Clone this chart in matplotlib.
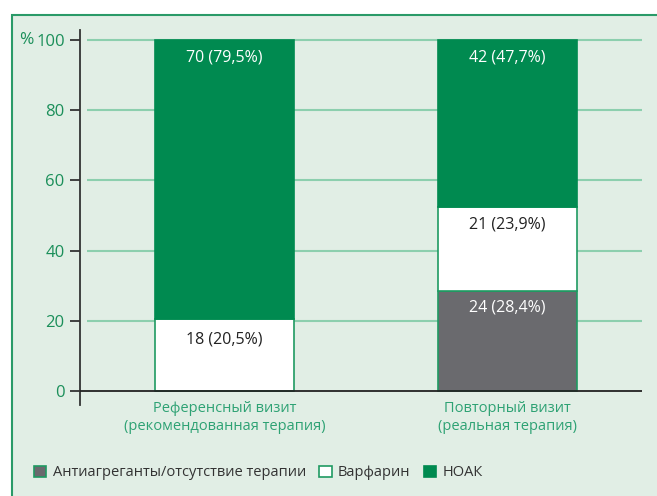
import matplotlib
matplotlib.use("Agg")
import matplotlib.pyplot as plt
from matplotlib.patches import Rectangle, Patch
from matplotlib.transforms import offset_copy

plt.rcParams['font.family'] = ['Open Sans', 'DejaVu Sans']

categories = ["Референсный визит\n(рекомендованная терапия)", "Повторный визит\n(реальная терапия)"]
series_names = ["Антиагреганты/отсутствие терапии", "Варфарин", "НОАК"]
antiagg = [0.0, 28.4]
warfarin = [20.5, 23.9]
noak = [79.5, 47.7]
antiagg_labels = [None, "24 (28,4%)"]
warfarin_labels = ["18 (20,5%)", "21 (23,9%)"]
noak_labels = ["70 (79,5%)", "42 (47,7%)"]
yticks = [0, 20, 40, 60, 80, 100]

W, H = 657, 496
fig = plt.figure(figsize=(W / 100, H / 100), dpi=100)
fig.patch.set_facecolor("white")

GREEN = "#008a50"
GREY = "#6a6a6e"
EDGE = "#1f9a62"
TICKC = "#1b8f5a"
XLABC = "#2ea274"
GRIDC = "#8ccfae"
BG = "#e1eee5"

# panel
panel = Rectangle((12 / W, -0.05), 1.1, (H - 15) / H + 0.05,
                  transform=fig.transFigure, facecolor=BG,
                  edgecolor="#2a9a68", lw=1.5, zorder=-10)
fig.patches.append(panel)

ax_l, ax_r, ax_t, ax_b = 80, 642, 30, 405
ax = fig.add_axes([ax_l / W, 1 - ax_b / H, (ax_r - ax_l) / W, (ax_b - ax_t) / H])
ax.set_facecolor("none")
ax.set_zorder(1)

px_per_unit = (391 - 40) / 100
ax.set_ylim(-(ax_b - 391) / px_per_unit, 100 + (40 - ax_t) / px_per_unit)
dx = 282.5
ax.set_xlim(-(224.5 - ax_l) / dx, 1 + (ax_r - 507) / dx)

x = [0, 1]
width = 139 / dx

for y in yticks[1:]:
    ax.hlines(y, (87 - 224.5) / dx, ax.get_xlim()[1], color=GRIDC, lw=1.5, zorder=1)
ax.axhline(0, color="#222222", lw=1.3, zorder=3)

ax.bar(x, antiagg, width, color=GREY, edgecolor=EDGE, lw=1.2, zorder=2)
ax.bar(x, warfarin, width, bottom=antiagg, color="white", edgecolor=EDGE, lw=1.2, zorder=2)
bottoms3 = [a + w for a, w in zip(antiagg, warfarin)]
ax.bar(x, noak, width, bottom=bottoms3, color=GREEN, edgecolor=GREEN, lw=1.2, zorder=2)


def seg_label(xi, top, text, color, off):
    tr = offset_copy(ax.transData, fig=fig, x=0, y=-off, units="points")
    ax.text(xi, top, text, transform=tr, ha="center", va="top",
            fontsize=11.5, color=color, zorder=5)


for i in range(2):
    if antiagg_labels[i]:
        seg_label(x[i], antiagg[i], antiagg_labels[i], "white", 6)
    seg_label(x[i], antiagg[i] + warfarin[i], warfarin_labels[i], "#222222", 6.5 if i == 1 else 9)
    seg_label(x[i], bottoms3[i] + noak[i], noak_labels[i], "white", 6.5)

ax.set_yticks(yticks)
ax.set_yticklabels([str(v) for v in yticks], color=TICKC, fontsize=12)
ax.tick_params(axis="y", length=7, width=1.3, color="#333333", pad=4)
ax.set_xticks(x)
ax.set_xticklabels(categories, color=XLABC, fontsize=10.5, linespacing=1.32)
ax.tick_params(axis="x", length=0, pad=-3)
for s in ["top", "right", "bottom"]:
    ax.spines[s].set_visible(False)
ax.spines["left"].set_color("#333333")
ax.spines["left"].set_linewidth(1.3)

fig.text(26 / W, 1 - 40 / H, "%", color=TICKC, fontsize=12.5, ha="center", va="center")

handles = [Patch(facecolor=GREY, edgecolor=EDGE, lw=1.2),
           Patch(facecolor="white", edgecolor=EDGE, lw=1.2),
           Patch(facecolor=GREEN, edgecolor=GREEN, lw=1.2)]
fig.legend(handles, series_names, loc="center left", bbox_to_anchor=(28 / W, 1 - 473 / H),
           ncol=3, frameon=False, fontsize=10.5, handlelength=0.85, handleheight=0.85,
           handletextpad=0.45, columnspacing=0.9, labelcolor="#333333", borderaxespad=0)

fig.savefig("out.png", dpi=100, facecolor="white")
